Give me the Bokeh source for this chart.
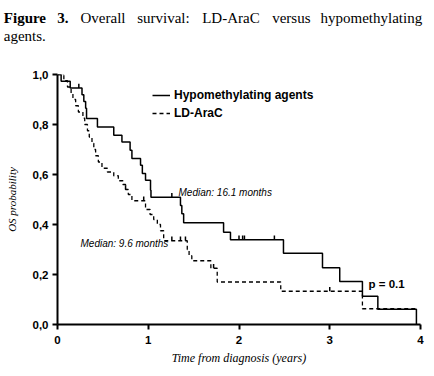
from bokeh.plotting import figure
from bokeh.layouts import column
from bokeh.models import (Label, Legend, LegendItem, Range1d, FixedTicker,
                          CustomJSTickFormatter)
from bokeh.embed import file_html
from bokeh.resources import INLINE

# ---------------- data ----------------
# Hypomethylating agents (solid): event times (years) and survival after each event
hma_time = [0, 0.04, 0.14, 0.27, 0.29, 0.31, 0.32, 0.44, 0.62, 0.71, 0.80, 0.82,
            0.915, 0.935, 0.97, 1.025, 1.03, 1.355, 1.37, 1.39, 1.83, 1.906,
            2.49, 2.92, 3.11, 3.36, 3.53, 3.955]
hma_surv = [1.0, 0.973, 0.946, 0.919, 0.892, 0.865, 0.824, 0.79, 0.757, 0.73,
            0.697, 0.664, 0.637, 0.604, 0.577, 0.537, 0.509, 0.476, 0.443, 0.407,
            0.369, 0.339, 0.285, 0.227, 0.172, 0.113, 0.061, 0.0]
hma_cens_time = [0.235, 1.26, 2.0, 2.04, 2.06, 2.39]
hma_cens_surv = [0.946, 0.509, 0.339, 0.339, 0.339, 0.339]

# LD-AraC (dashed)
ara_time = [0, 0.07, 0.11, 0.15, 0.17, 0.20, 0.23, 0.28, 0.30, 0.33, 0.35, 0.38,
            0.40, 0.42, 0.45, 0.49, 0.55, 0.62, 0.67, 0.72, 0.75, 0.78, 0.82,
            0.97, 1.02, 1.06, 1.10, 1.135, 1.17, 1.43, 1.45, 1.48, 1.69, 1.76,
            2.46, 3.36]
ara_surv = [1.0, 0.975, 0.95, 0.925, 0.90, 0.875, 0.85, 0.825, 0.80, 0.775, 0.75,
            0.725, 0.70, 0.675, 0.65, 0.625, 0.61, 0.595, 0.575, 0.56, 0.54, 0.52,
            0.495, 0.46, 0.44, 0.42, 0.40, 0.375, 0.335, 0.30, 0.275, 0.255,
            0.225, 0.17, 0.133, 0.063]
ara_end = 3.95
ara_cens_time = [0.065, 0.75, 0.95, 1.26, 1.355, 1.41, 1.72, 3.0]
ara_cens_surv = [1.0, 0.54, 0.495, 0.335, 0.335, 0.335, 0.225, 0.133]

x_ticks = [0, 1, 2, 3, 4]
y_ticks = [0, 0.2, 0.4, 0.6, 0.8, 1.0]

title_line1 = ["Figure", "3.", "Overall", "survival:", "LD-AraC", "versus", "hypomethylating"]
title_line2 = "agents."
legend_labels = ["Hypomethylating agents", "LD-AraC"]
median_hma = "Median: 16.1 months"
median_ara = "Median: 9.6 months"
p_text = "p = 0.1"
x_label = "Time from diagnosis (years)"
y_label = "OS probability"

# ---------------- layout constants ----------------
CAP_H = 45                 # caption strip height
FL, FB = 57, 324           # frame left / bottom in page pixels
TICK_LEN = 0.017           # censor tick height (data units of y)

# ---------------- caption figure ----------------
cap = figure(width=434, height=CAP_H, x_range=Range1d(0, 434), y_range=Range1d(0, CAP_H),
             output_backend="svg", toolbar_location=None,
             x_axis_location=None, y_axis_location=None,
             min_border_left=0, min_border_right=0, min_border_top=0, min_border_bottom=0)
cap.outline_line_color = None
cap.grid.visible = False

# ---------------- main plot ----------------
p = figure(width=434, height=376 - CAP_H, x_range=Range1d(0, 4), y_range=Range1d(0, 1.0),
           output_backend="svg", toolbar_location=None,
           min_border_left=FL, min_border_right=434 - 420,
           min_border_top=74 - CAP_H, min_border_bottom=376 - FB)
p.outline_line_color = None
p.grid.visible = False

aligned = True
try:
    cap.frame_align = False
    p.frame_align = False
    aligned = False
except Exception:
    aligned = True

# caption words (if frames get aligned, the caption frame starts at FL)
shift = FL if aligned else 0
word_x = [3.3, 56.7, 80, 136.7, 201.7, 271.7, 320]
for i, (w, wx) in enumerate(zip(title_line1, word_x)):
    cap.add_layout(Label(x=wx - shift, y=CAP_H - 17.5, x_units="screen", y_units="screen",
                         text=w, text_font="Liberation Serif",
                         text_font_style="bold" if i < 2 else "normal",
                         text_font_size="15px", text_baseline="alphabetic",
                         text_color="black"))
cap.add_layout(Label(x=3.3 - shift, y=CAP_H - 35, x_units="screen", y_units="screen",
                     text=title_line2, text_font="Liberation Serif",
                     text_font_size="15px", text_baseline="alphabetic", text_color="black"))

r_hma = p.step(hma_time, hma_surv, mode="after", line_color="black", line_width=1.5)
r_ara = p.step(ara_time + [ara_end], ara_surv + [ara_surv[-1]], mode="after",
               line_color="black", line_width=1.3, line_dash="4 3")

p.segment(hma_cens_time, hma_cens_surv, hma_cens_time,
          [s + TICK_LEN for s in hma_cens_surv], line_color="black", line_width=1.5)
p.segment(ara_cens_time, ara_cens_surv, ara_cens_time,
          [s + TICK_LEN for s in ara_cens_surv], line_color="black", line_width=1.5)

for ax in (p.xaxis[0], p.yaxis[0]):
    ax.axis_line_width = 2
    ax.major_tick_line_width = 2
    ax.major_tick_out = 5
    ax.major_tick_in = 0
    ax.minor_tick_line_color = None
    ax.major_label_text_font = "Liberation Sans"
    ax.major_label_text_font_style = "bold"
    ax.major_label_text_font_size = "11.5px"
    ax.major_label_text_color = "black"
    ax.axis_label_text_font = "Liberation Serif"
    ax.axis_label_text_font_style = "italic"
    ax.axis_label_text_color = "black"

p.xaxis.ticker = FixedTicker(ticks=x_ticks)
p.yaxis.ticker = FixedTicker(ticks=y_ticks)
p.yaxis.formatter = CustomJSTickFormatter(code="return tick.toFixed(1).replace('.', ',');")
p.xaxis.major_label_standoff = 6
p.yaxis.major_label_standoff = 4
p.xaxis.axis_label = x_label
p.yaxis.axis_label = y_label
p.xaxis.axis_label_text_font_size = "12px"
p.yaxis.axis_label_text_font_size = "11px"
p.xaxis.axis_label_standoff = 4
p.yaxis.axis_label_standoff = 12

legend = Legend(items=[LegendItem(label=legend_labels[0], renderers=[r_hma]),
                       LegendItem(label=legend_labels[1], renderers=[r_ara])],
                location=(152 - FL, FB - 121.5), padding=0, margin=0, spacing=0,
                glyph_width=18, glyph_height=18, label_height=18, label_standoff=4,
                border_line_color=None, background_fill_alpha=0,
                label_text_font="Liberation Sans", label_text_font_style="bold",
                label_text_font_size="12px", label_text_color="black")
p.add_layout(legend, "center")

p.add_layout(Label(x=178 - FL, y=FB - 191.7, x_units="screen", y_units="screen",
                   text=median_hma, text_font="Liberation Sans", text_font_style="italic",
                   text_font_size="10px", text_baseline="middle", text_color="black"))
p.add_layout(Label(x=80 - FL, y=FB - 243.3, x_units="screen", y_units="screen",
                   text=median_ara, text_font="Liberation Sans", text_font_style="italic",
                   text_font_size="10px", text_baseline="middle", text_color="black"))
p.add_layout(Label(x=368 - FL, y=FB - 283.3, x_units="screen", y_units="screen",
                   text=p_text, text_font="Liberation Sans", text_font_style="bold",
                   text_font_size="11.5px", text_baseline="middle", text_color="black"))

layout = column(cap, p, spacing=0)
open("out.html", "w").write(file_html(layout, INLINE))
